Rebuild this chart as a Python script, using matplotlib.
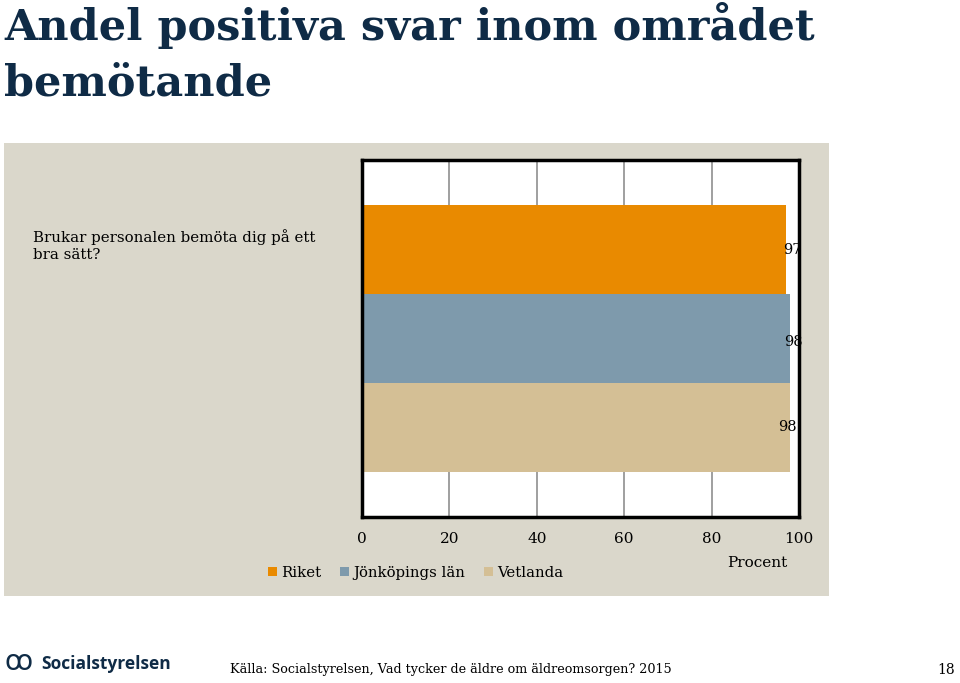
import matplotlib.pyplot as plt
from matplotlib.patches import Rectangle

# data
title = "Andel positiva svar inom området\nbemötande"
question = "Brukar personalen bemöta dig på ett\nbra sätt?"
series = ["Riket", "Jönköpings län", "Vetlanda"]
values = [97, 98, 98]
colors = ["#E98A00", "#7E9AAC", "#D4BF95"]
xticks = [0, 20, 40, 60, 80, 100]
source = "Källa: Socialstyrelsen, Vad tycker de äldre om äldreomsorgen? 2015"
page = "18"

W, H = 960, 683
fig = plt.figure(figsize=(W / 100, H / 100), dpi=100)
fig.patch.set_facecolor("white")

def fx(px):
    return px / W

def fy(py):
    return 1 - py / H

navy = "#0F2B46"
serif = ["DejaVu Serif"]

# grey panel
fig.patches.append(Rectangle((fx(4), fy(596)), fx(829) - fx(4), fy(143) - fy(596),
                             transform=fig.transFigure, facecolor="#DAD7CB",
                             edgecolor="none", zorder=-1))

fig.text(fx(4), fy(2), title, ha="left", va="top", fontsize=31, fontweight="bold",
         color=navy, family=serif, linespacing=1.41)

fig.text(fx(33), fy(229), question, ha="left", va="top", fontsize=10.8,
         color="black", family=serif, linespacing=1.3)

ax = fig.add_axes([fx(362), fy(517), fx(799) - fx(362), fy(160) - fy(517)])
ax.set_zorder(1)
ax.set_facecolor("white")
h = 0.249
ys = [h, 0, -h]
offsets = [-3, -6, -12]
dys = [0, -3, 0]
for name, v, c, y, off, dy in zip(series, values, colors, ys, offsets, dys):
    ax.barh(y, v, height=h, color=c, edgecolor="none", zorder=2, label=name)
    t = ax.annotate(str(v), (v, y), xytext=(off, dy), textcoords="offset pixels",
                    ha="left", va="center", fontsize=10.5, family=serif, zorder=3)
    t.set_clip_on(True)
ax.set_xlim(0, 100)
ax.set_ylim(-0.5, 0.5)
ax.set_xticks(xticks)
ax.set_yticks([])
ax.grid(axis="x", color="#8f8f8f", linewidth=1.2, zorder=1)
ax.tick_params(axis="x", length=0, pad=11, labelsize=11)
for lab in ax.get_xticklabels():
    lab.set_family(serif)
for s in ax.spines.values():
    s.set_linewidth(2.5)
    s.set_color("black")

fig.text(fx(757), fy(563), "Procent", ha="center", va="center", fontsize=11, family=serif)

leg = fig.legend(loc="center left", bbox_to_anchor=(fx(268), fy(573)), ncol=3, frameon=False,
                 prop={"family": serif, "size": 10.7}, handlelength=0.6, handleheight=0.6,
                 handletextpad=0.3, columnspacing=1.25, borderaxespad=0, borderpad=0)

# footer
fig.text(fx(41), fy(664), "Socialstyrelsen", ha="left", va="center", fontsize=12.5,
         fontweight="bold", color=navy, family="Open Sans")
fig.text(fx(4), fy(662), "ꝏ", ha="left", va="center", fontsize=20, color=navy,
         family=["DejaVu Sans"])
fig.text(fx(230), fy(670), source, ha="left", va="center", fontsize=9.2, family=serif)
fig.text(fx(955), fy(670), page, ha="right", va="center", fontsize=10, family=serif)

fig.savefig("out.png", dpi=100)
